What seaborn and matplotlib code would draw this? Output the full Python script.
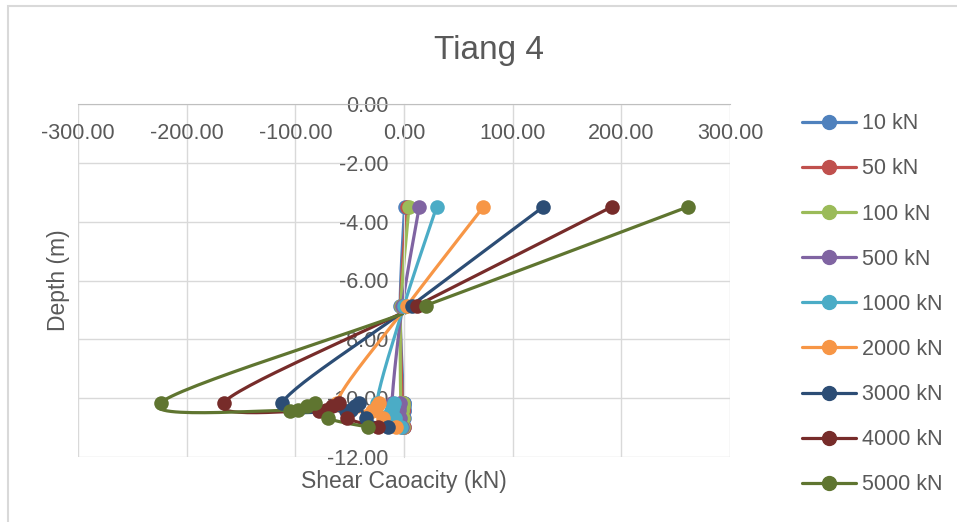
import numpy as np
import pandas as pd
import seaborn as sns
import matplotlib.pyplot as plt
from matplotlib.lines import Line2D
from matplotlib.patches import Rectangle

# depth of the points along the pile (m)
depth = [-3.5, -6.85, -10.15, -10.42, -10.40, -10.25, -10.15, -10.68, -10.98]

labels = ["10 kN", "50 kN", "100 kN", "500 kN", "1000 kN", "2000 kN", "3000 kN", "4000 kN", "5000 kN"]
shear_10 = [0.5, -3.5, -0.3, -0.2, -0.2, -0.2, -0.1, -0.1, 0.0]
shear_50 = [2.5, -3.2, -1.5, -0.7, -0.7, -0.6, -0.6, -0.5, -0.2]
shear_100 = [4.6, -2.8, -3.0, -1.5, -1.4, -1.3, -1.2, -1.0, -0.5]
shear_500 = [14, -1.5, -11, -5.2, -4.8, -4.4, -4.0, -3.4, -1.5]
shear_1000 = [30, 0, -25, -12, -11, -10, -9, -8, -3]
shear_2000 = [73, 3, -62, -29, -27, -25, -23, -19, -7]
shear_3000 = [128, 7, -112, -53, -49, -45, -41, -35, -15]
shear_4000 = [191, 12, -166, -78, -72, -66, -60, -52, -24]
shear_5000 = [261, 20, -224, -105, -98, -89, -82, -70, -33]
series = [shear_10, shear_50, shear_100, shear_500, shear_1000,
          shear_2000, shear_3000, shear_4000, shear_5000]
colors = ["#4F81BD", "#C0504D", "#9BBB59", "#8064A2", "#4BACC6",
          "#F79646", "#2C4D75", "#772C2A", "#5F7530"]


def smooth(xs, ys, n=30):
  # Catmull-Rom curve through the points, like Excel's smoothed line
  p = np.column_stack([xs, ys]).astype(float)
  p = np.vstack([p[0], p, p[-1]])
  out = []
  for i in range(1, len(p) - 2):
    p0, p1, p2, p3 = p[i - 1], p[i], p[i + 1], p[i + 2]
    c1 = p1 + (p2 - p0) / 6
    c2 = p2 - (p3 - p1) / 6
    t = np.linspace(0, 1, n)[:, None]
    out.append((1 - t) ** 3 * p1 + 3 * (1 - t) ** 2 * t * c1 + 3 * (1 - t) * t ** 2 * c2 + t ** 3 * p2)
  return np.vstack(out)


sns.set_style("white")
plt.rcParams['font.family'] = ['Liberation Sans', 'DejaVu Sans']
txt = "#595959"

fig = plt.figure(figsize=(9.57, 5.22), dpi=100)
ax = fig.add_axes([78 / 957, 1 - 457 / 522, 652 / 957, 353 / 522])
fig.patches.append(Rectangle((8 / 957, -0.1), 1.2, (516 + 52) / 522, transform=fig.transFigure,
                             fill=False, edgecolor="#D9D9D9", lw=1.5))

for lab, vals, col in zip(labels, series, colors):
  curve = smooth(vals, depth)
  cdf = pd.DataFrame({"x": curve[:, 0], "y": curve[:, 1]})
  sns.lineplot(data=cdf, x="x", y="y", sort=False, estimator=None, color=col, lw=2.3, ax=ax)
  pdf = pd.DataFrame({"x": vals, "y": depth})
  sns.scatterplot(data=pdf, x="x", y="y", color=col, s=110, edgecolor=col, linewidth=0, ax=ax, zorder=3)

ax.set_xlim(-300, 300)
ax.set_ylim(-12, 0)
ax.set_xticks(np.arange(-300, 301, 100))
ax.set_yticks(np.arange(-12, 0.1, 2))
ax.xaxis.set_major_formatter(lambda v, p: f"{v:.2f}")
ax.yaxis.set_major_formatter(lambda v, p: f"{v:.2f}")
ax.grid(True, color="#D9D9D9", lw=1)
for s in ["right", "top"]:
  ax.spines[s].set_visible(False)
ax.spines['left'].set_position(('data', 0))
ax.spines['bottom'].set_position(('data', 0))
ax.spines['left'].set_color("#D9D9D9")
ax.spines['bottom'].set_color("#BFBFBF")
ax.tick_params(length=0, labelsize=15.5, labelcolor=txt)
ax.tick_params(axis="x", pad=14)
ax.tick_params(axis="y", pad=11)
ax.set_axisbelow(True)

ax.set_xlabel("Shear Caoacity (kN)", fontsize=16.5, color=txt)
ax.set_ylabel("Depth (m)", fontsize=16.5, color=txt)
ax.xaxis.set_label_coords(0.5, -0.037)
ax.yaxis.set_label_coords(-0.012, 0.5)
fig.text(489 / 957, 1 - 51 / 522, "Tiang 4", ha="center", va="center", fontsize=24, color=txt)

handles = [Line2D([], [], color=c, lw=2.3, marker="o", markersize=10) for c in colors]
leg = fig.legend(handles, labels, loc="upper left", bbox_to_anchor=(783 / 957, 1 - 94 / 522),
                 frameon=False, fontsize=15.5, labelspacing=1.12, handlelength=2.5,
                 handletextpad=0.25, labelcolor=txt)

plt.savefig("out.png", dpi=100)
